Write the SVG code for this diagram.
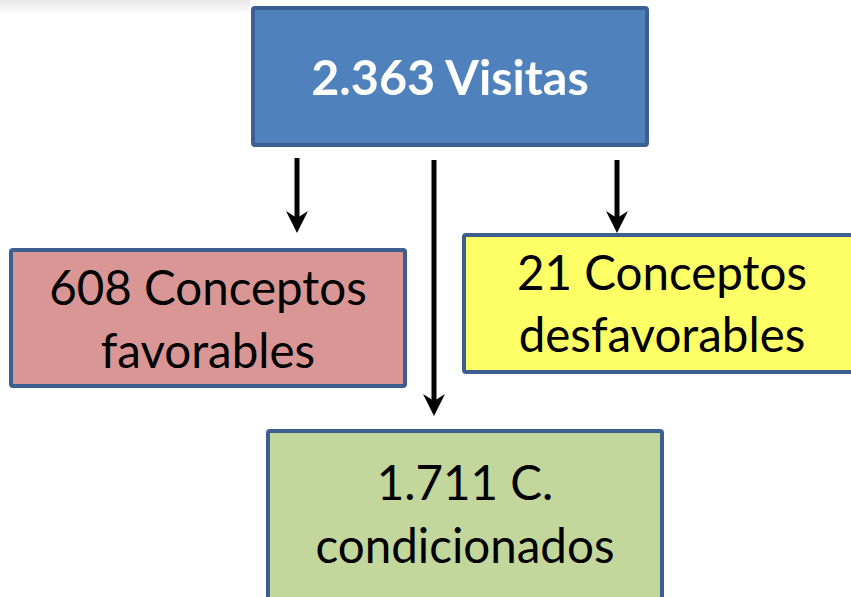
<svg xmlns="http://www.w3.org/2000/svg" width="851" height="597" viewBox="0 0 851 597">
<style>
.box{stroke:#3c5f8f;stroke-width:4;}
.t{font-family:Lato,"Open Sans","Liberation Sans",sans-serif;text-anchor:middle;fill:#000;font-size:47.5px;}
.w{fill:#fff;font-weight:bold;font-size:48.5px;}
.conn line{stroke:#000;stroke-width:5;}
</style>
<defs>
<marker id="ah" markerWidth="24" markerHeight="24" refX="12" refY="12" orient="auto" markerUnits="userSpaceOnUse">
<path d="M0,1 L22,12 L0,23 L7,12 Z" fill="#000"/>
</marker>
<linearGradient id="sh" x1="0" y1="0" x2="0" y2="1">
<stop offset="0" stop-color="#e6e6e6"/>
<stop offset="1" stop-color="#ffffff"/>
</linearGradient>
</defs>
<rect width="851" height="597" fill="#fff"/>
<rect x="0" y="0" width="250" height="14" fill="url(#sh)"/>
<g class="conn">
<line x1="297" y1="158" x2="297" y2="223" marker-end="url(#ah)"/>
<line x1="434" y1="160" x2="434" y2="406" marker-end="url(#ah)"/>
<line x1="617" y1="160" x2="617" y2="223" marker-end="url(#ah)"/>
</g>
<g id="visitas">
<rect class="box" x="253" y="8" width="394" height="137" rx="2" fill="#4f81bd"/>
<text class="t w" x="450" y="95">2.363 Visitas</text>
</g>
<g id="favorables">
<rect class="box" x="11" y="250" width="394" height="136" rx="2" fill="#d99694"/>
<text class="t" x="208" y="305">608 Conceptos</text>
<text class="t" x="208" y="368">favorables</text>
</g>
<g id="desfavorables">
<rect class="box" x="464" y="235" width="394" height="137" rx="2" fill="#ffff66"/>
<text class="t" x="662" y="290">21 Conceptos</text>
<text class="t" x="662" y="352">desfavorables</text>
</g>
<g id="condicionados">
<rect class="box" x="268" y="431" width="394" height="180" rx="2" fill="#c3d69b"/>
<text class="t" x="465" y="500">1.711 C.</text>
<text class="t" x="465" y="563">condicionados</text>
</g>
</svg>
